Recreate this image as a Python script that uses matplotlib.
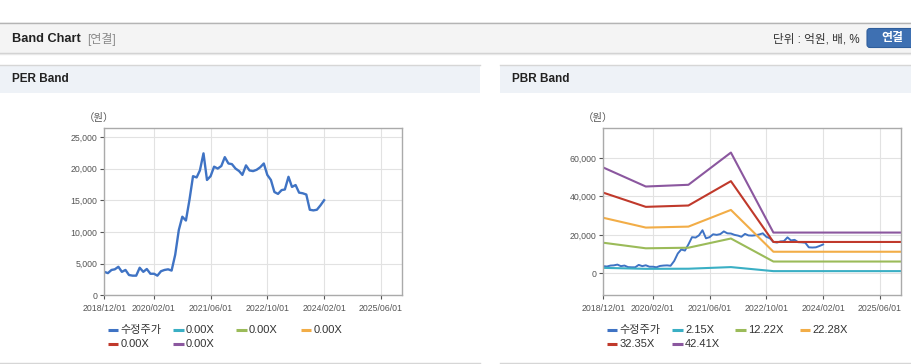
import numpy as np
import pandas as pd
import matplotlib
matplotlib.use('Agg')
import matplotlib.pyplot as plt
from matplotlib.patches import Rectangle, FancyBboxPatch
from matplotlib.ticker import FuncFormatter

plt.rcParams['font.family'] = ['Liberation Sans', 'Noto Sans CJK KR']

# monthly adjusted price (수정주가), 2018/12 .. 2024/02
price = [3700, 3500, 4000, 4100, 4500, 3700, 4000, 3200, 3100, 3100,
         4350, 3700, 4150, 3400, 3400, 3100, 3800, 4000, 4100, 3900,
         6400, 10300, 12400, 11800, 15000, 18800, 18600, 19700, 22400, 18200,
         18800, 20300, 20000, 20400, 21800, 20800, 20700, 20000, 19600, 19000,
         20500, 19700, 19600, 19800, 20200, 20800, 19000, 18200, 16300, 16000,
         16600, 16700, 18700, 17100, 17400, 16200, 16100, 15900, 13500, 13400,
         13500, 14200, 15000]
price_start = '2018-12-01'

# PBR band lines (anchor dates)
band_dates = ['2018-12-01', '2019-12-01', '2020-12-01', '2021-12-01', '2022-12-01', '2025-12-01']
band_215 = [2800, 2300, 2350, 3200, 1100, 1100]
band_1222 = [15900, 13000, 13300, 18100, 6100, 6100]
band_2228 = [28900, 23800, 24300, 33000, 11200, 11200]
band_3235 = [42000, 34600, 35300, 48000, 16300, 16300]
band_4241 = [55100, 45200, 46100, 62900, 21200, 21200]

per_labels = ['수정주가', '0.00X', '0.00X', '0.00X', '0.00X', '0.00X']
pbr_labels = ['수정주가', '2.15X', '12.22X', '22.28X', '32.35X', '42.41X']
colors = ['#3f73c4', '#3aafc4', '#9bbb59', '#f2ad47', '#c0392b', '#8b579f']

tick_labels = ['2018/12/01', '2020/02/01', '2021/06/01', '2022/10/01', '2024/02/01', '2025/06/01']

dates = pd.date_range(price_start, periods=len(price), freq='MS')
bdates = pd.to_datetime(band_dates)
ticks = pd.to_datetime(tick_labels, format='%Y/%m/%d')

fig = plt.figure(figsize=(9.12, 3.64), dpi=100)
bg = fig.add_axes([0, 0, 1, 1])
bg.set_xlim(0, 912)
bg.set_ylim(364, 0)
bg.axis('off')

# top header bar
bg.add_patch(Rectangle((0, 22), 912, 31, fc='#f4f4f4', ec='none'))
bg.plot([0, 912], [22.5, 22.5], color='#b4b4b4', lw=1)
bg.plot([0, 912], [52.5, 52.5], color='#cfcfcf', lw=1)
bg.plot([0, 912], [53.5, 53.5], color='#e8e8e8', lw=1)
bg.text(12, 39, 'Band Chart', fontsize=9.2, fontweight='bold', color='#222222', va='center')
bg.text(87, 39, '[연결]', fontsize=8.6, color='#8a8a8a', va='center')
bg.text(860, 39.5, '단위 : 억원, 배, %', fontsize=8.4, color='#333333', va='center', ha='right')
bg.add_patch(FancyBboxPatch((867, 28.5), 50, 19, boxstyle='round,pad=0,rounding_size=3',
                            fc='#3e70b2', ec='#2f5e9c', lw=0.8))
bg.text(892, 38, '연결', fontsize=8.6, fontweight='bold', color='white', va='center', ha='center')

# panel headers
for x0, x1, title in [(0, 480, 'PER Band'), (500, 912, 'PBR Band')]:
    bg.add_patch(Rectangle((x0, 64.5), x1 - x0, 28.5, fc='#eef2f7', ec='none'))
    bg.plot([x0, x1], [64.5, 64.5], color='#d6d6d6', lw=1)
    bg.plot([x0, x1], [362.5, 362.5], color='#d6d6d6', lw=1)
    bg.text(x0 + 12, 79.5, title, fontsize=8.5, fontweight='bold', color='#222222', va='center')


def style(ax, yticks, ylim):
    ax.set_xlim(pd.Timestamp('2018-12-01'), pd.Timestamp('2025-12-01'))
    ax.set_ylim(*ylim)
    ax.set_xticks(ticks)
    ax.set_xticklabels(tick_labels)
    ax.set_yticks(yticks)
    ax.yaxis.set_major_formatter(FuncFormatter(lambda v, p: f'{int(v):,}'))
    ax.grid(True, color='#e2e2e2', lw=0.8)
    ax.set_axisbelow(True)
    for s in ax.spines.values():
        s.set_color('#aaaaaa')
        s.set_linewidth(1)
    ax.tick_params(labelsize=6.3, colors='#555555', length=3, width=0.8, pad=2)
    ax.tick_params(axis='x', pad=3)


def legend(x0, labels):
    offs = [0, 65.5, 128.5, 193]
    for i, (lab, c) in enumerate(zip(labels, colors)):
        r, k = divmod(i, 4)
        x = x0 + offs[k]
        y = 330 + r * 14.3
        bg.plot([x, x + 10.5], [y, y], color=c, lw=2.2, solid_capstyle='butt')
        bg.text(x + 12.5, y, lab, fontsize=8, color='#333333', va='center', ha='left')


# PER band
ax1 = fig.add_axes([104.3 / 912, 1 - 295.3 / 364, 297.7 / 912, 167.3 / 364])
ax1.plot(dates, price, color=colors[0], lw=1.7)
style(ax1, np.arange(0, 25001, 5000), (0, 26400))
bg.text(99, 118, '（원）', fontsize=7.5, color='#555555', ha='center', va='center')
legend(108, per_labels)

# PBR band
ax2 = fig.add_axes([603.3 / 912, 1 - 295.3 / 364, 297.7 / 912, 167.3 / 364])
ax2.plot(dates, price, color=colors[0], lw=1.4)
for vals, c in zip([band_215, band_1222, band_2228, band_3235, band_4241], colors[1:]):
    ax2.plot(bdates, vals, color=c, lw=1.5)
style(ax2, np.arange(0, 60001, 20000), (-11500, 75700))
bg.text(598, 118, '（원）', fontsize=7.5, color='#555555', ha='center', va='center')
legend(607, pbr_labels)

fig.savefig('out.png', dpi=100)
